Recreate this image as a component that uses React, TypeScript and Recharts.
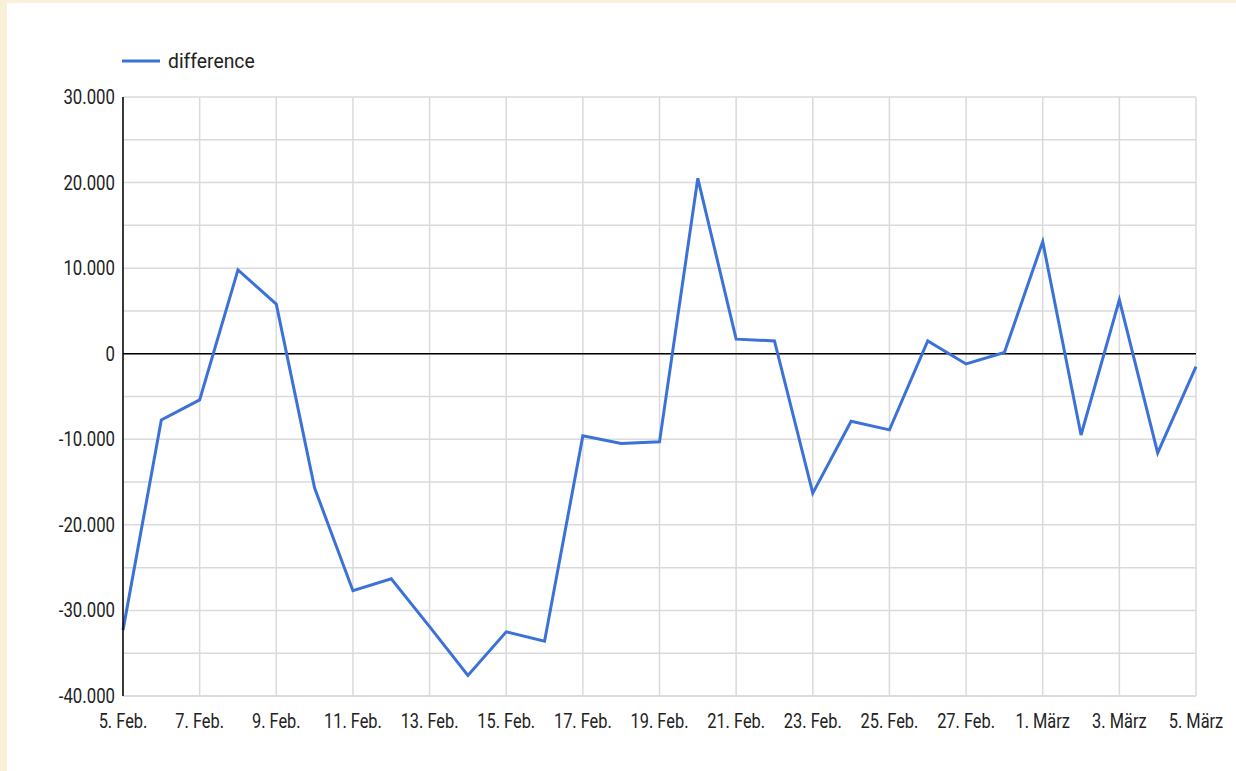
import {
  LineChart,
  Line,
  XAxis,
  YAxis,
  CartesianGrid,
  ReferenceLine,
  Legend,
} from "recharts";

const dates = [
  "5. Feb.", "6. Feb.", "7. Feb.", "8. Feb.", "9. Feb.", "10. Feb.", "11. Feb.",
  "12. Feb.", "13. Feb.", "14. Feb.", "15. Feb.", "16. Feb.", "17. Feb.", "18. Feb.",
  "19. Feb.", "20. Feb.", "21. Feb.", "22. Feb.", "23. Feb.", "24. Feb.", "25. Feb.",
  "26. Feb.", "27. Feb.", "28. Feb.", "1. März", "2. März", "3. März", "4. März",
  "5. März",
];

const difference = [
  -32300, -7750, -5400, 9800, 5800, -15700, -27700, -26300, -31900, -37600,
  -32500, -33600, -9600, -10500, -10300, 20500, 1700, 1500, -16300, -7900,
  -8900, 1500, -1200, 150, 13100, -9500, 6300, -11600, -1500,
];

const yTicks = [
  -40000, -35000, -30000, -25000, -20000, -15000, -10000, -5000, 0, 5000,
  10000, 15000, 20000, 25000, 30000,
];
const yLabels = [-40000, -30000, -20000, -10000, 0, 10000, 20000, 30000];

const data = dates.map((date, i) => ({ date, difference: difference[i] }));

const blue = "#3c72d8";
const grid = "#dadada";
const font = "Roboto";

const fmt = (v: number) =>
  (v < 0 ? "-" : "") + Math.abs(v).toString().replace(/\B(?=(\d{3})+(?!\d))/g, ".");

const YTick = (props: any) => {
  const { x, y, payload } = props;
  if (!yLabels.includes(payload.value)) return <g />;
  return (
    <g transform={`translate(${x},${y})`}>
      <text
        transform="scale(0.84,1)"
        x={0}
        y={7}
        textAnchor="end"
        fill="#222"
        fontSize={20}
        fontFamily={font}
      >
        {fmt(payload.value)}
      </text>
    </g>
  );
};

const XTick = (props: any) => {
  const { x, y, payload } = props;
  return (
    <g transform={`translate(${x},${y})`}>
      <text
        transform="scale(0.82,1)"
        x={0}
        y={32}
        textAnchor="middle"
        fill="#222"
        fontSize={20}
        fontFamily={font}
      >
        {payload.value}
      </text>
    </g>
  );
};

const LegendContent = () => (
  <div
    style={{
      display: "flex",
      alignItems: "center",
      fontFamily: font,
      fontSize: 21,
      color: "#222",
      whiteSpace: "nowrap",
    }}
  >
    <svg width={38} height={4}>
      <line x1={0} y1={2} x2={38} y2={2} stroke={blue} strokeWidth={3} />
    </svg>
    <span
      style={{
        marginLeft: 8,
        display: "inline-block",
        transform: "scaleX(0.92)",
        transformOrigin: "left",
      }}
    >
      difference
    </span>
  </div>
);

export default function App() {
  return (
    <div
      style={{
        position: "absolute",
        left: 0,
        top: 0,
        width: 1236,
        height: 771,
        background: "#faf0da",
      }}
    >
      <div
        style={{
          position: "absolute",
          left: 7,
          top: 3,
          width: 1229,
          height: 768,
          background: "#fff",
        }}
      >
        <LineChart
          width={1229}
          height={768}
          data={data}
          margin={{ top: 94, right: 40, left: 56, bottom: 35 }}
        >
          <CartesianGrid stroke={grid} strokeWidth={1.5} />
          <XAxis
            dataKey="date"
            interval={1}
            height={40}
            tickSize={0}
            tickMargin={0}
            tickLine={false}
            axisLine={{ stroke: grid, strokeWidth: 1.5 }}
            tick={<XTick />}
          />
          <YAxis
            width={60}
            domain={[-40000, 30000]}
            ticks={yTicks}
            tickSize={0}
            tickMargin={8}
            tickLine={false}
            axisLine={{ stroke: "#000", strokeWidth: 1.5 }}
            tick={<YTick />}
          />
          <ReferenceLine y={0} stroke="#000" strokeWidth={1.5} />
          <Legend
            layout="vertical"
            align="center"
            verticalAlign="middle"
            wrapperStyle={{ top: 46, left: 115, width: "auto" }}
            content={<LegendContent />}
          />
          <Line
            type="linear"
            dataKey="difference"
            stroke={blue}
            strokeWidth={3}
            dot={false}
            isAnimationActive={false}
          />
        </LineChart>
      </div>
    </div>
  );
}
